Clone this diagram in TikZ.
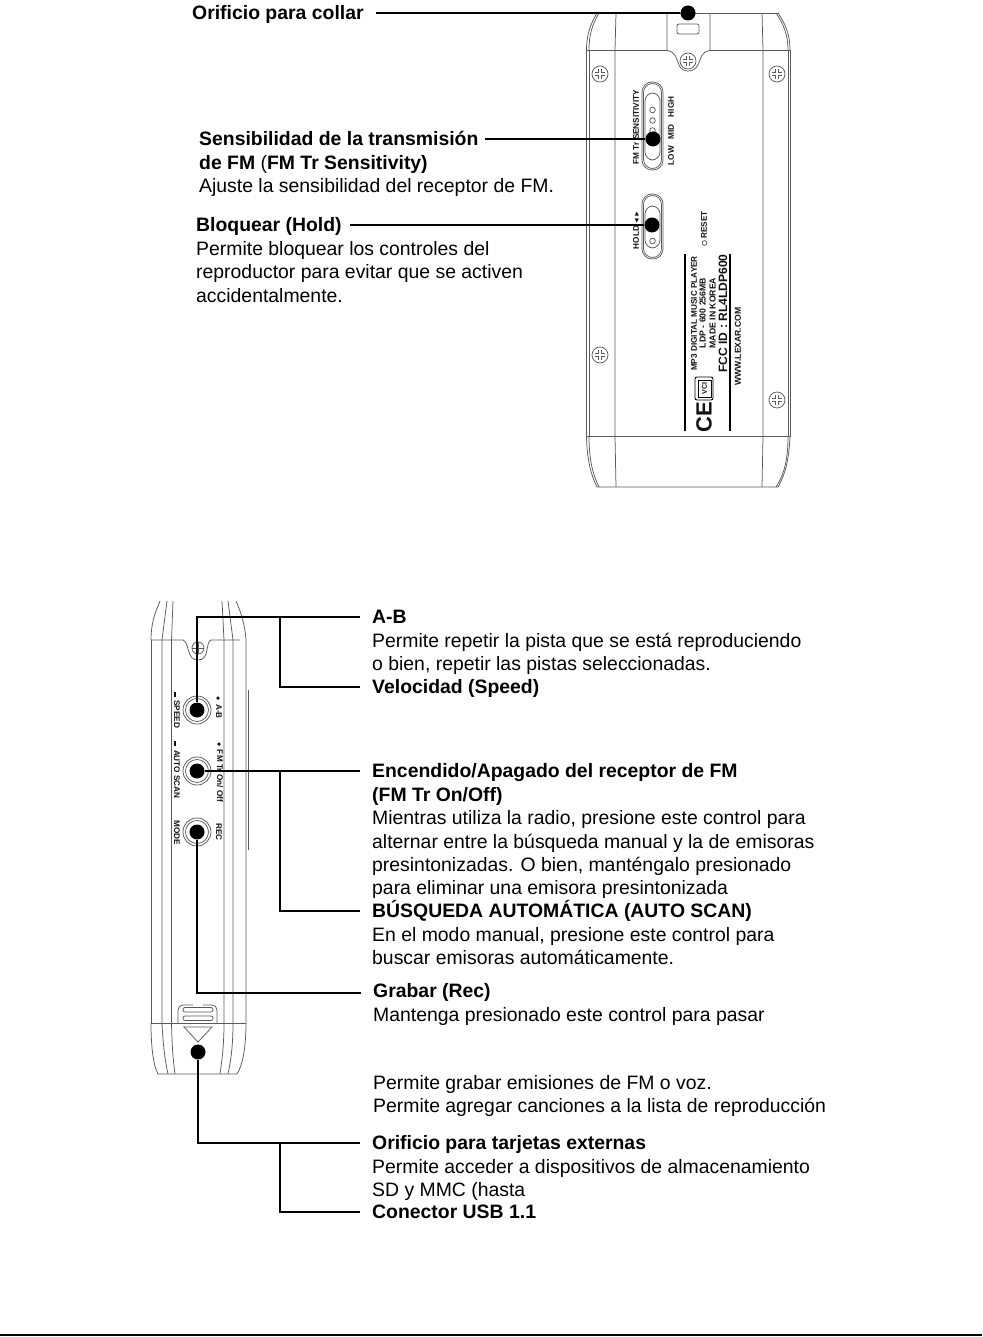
\documentclass[tikz,border=0pt]{standalone}
\usepackage{fontspec}
\setmainfont{Liberation Sans}
\usetikzlibrary{positioning}
\definecolor{CaseLine}{HTML}{5A5A5A}
\definecolor{CaseText}{HTML}{111111}
\tikzset{
  lead/.style={line width=1.9pt, draw=black},
  casing/.style={line width=0.75pt, draw=CaseLine},
  spot/.style={circle, fill=black, minimum size=15pt, inner sep=0pt},
  head/.style={anchor=west, inner sep=0pt, text height=14.5pt, text depth=1.5pt, font=\fontsize{19.4}{23.4}\selectfont\bfseries},
  body/.style={inner sep=0pt, align=left, font=\fontsize{19.4}{23.4}\selectfont},
  printbase/.style={inner sep=0pt, text=CaseText, font=\fontsize{8.2}{9}\selectfont\bfseries},
  printed/.style={printbase, rotate=90},
  sideprint/.style={printbase, rotate=-90},
  screwhead/.style={circle, draw=CaseLine, line width=0.75pt, fill=white, minimum size=16pt, inner sep=0pt},
}
\newcommand{\crosshead}[1]{
  \draw[CaseLine, line width=4pt] (#1) ++(-5,0) -- ++(10,0) (#1) ++(0,-5) -- ++(0,10);
  \draw[white, line width=2.4pt] (#1) ++(-4.6,0) -- ++(9.2,0) (#1) ++(0,-4.6) -- ++(0,9.2);
}
\begin{document}
\begin{tikzpicture}[x=1pt,y=-1pt,node distance=7.8pt and 0pt]
  \useasboundingbox (0,0) rectangle (982,1337);
  % upper view of the player
  \draw[casing] (597,13) -- (778,13);
  \draw[casing] (586.5,50.5) .. controls (586.5,35) and (590,25) .. (597,13);
  \draw[casing] (589,50.5) .. controls (589,35) and (592,25) .. (599,13);
  \draw[casing] (790,50.5) .. controls (790,35) and (786,25) .. (778,13);
  \draw[casing] (788,50.5) .. controls (788,35) and (784,25) .. (776,13);
  \draw[casing] (586.5,50.5) -- (586.5,436.5) (589,50.5) -- (589,436.5);
  \draw[casing] (790,50.5) -- (790,436.5) (788,50.5) -- (788,436.5);
  \draw[casing] (616,13) -- (615,50.5) -- (615,436.5) -- (616,487);
  \draw[casing] (762,13) -- (763,50.5) -- (763,436.5) -- (762,487);
  \draw[casing] (586.5,436.5) -- (790,436.5);
  \draw[casing] (586.5,50.5) -- (667,50.5) (710,50.5) -- (790,50.5);
  \draw[casing] (667,13) -- (667,50.5) .. controls (676,52) and (676,58) .. (679,65) .. controls (682,73) and (694,73) .. (698,65) .. controls (701,58) and (701,52) .. (710,50.5) -- (710,13);
  \draw[casing, rounded corners=2pt] (677,24) rectangle (699,34);
  \draw[casing] (586.5,436.5) .. controls (587,460) and (591,475) .. (597,487) -- (778,487) .. controls (785,475) and (789,460) .. (790,436.5);
  \draw[casing] (589,436.5) .. controls (589,460) and (593,475) .. (599,487);
  \draw[casing] (788,436.5) .. controls (788,460) and (784,475) .. (776,487);
  \foreach \sx/\sy/\sname in {600/74/a, 777/74/b, 600/355/c, 777/400/d, 688/61/e} {
    \node[screwhead] (screw\sname) at (\sx,\sy) {};
    \crosshead{\sx,\sy}
  }
  % switches
  \draw[casing, rounded corners=10pt] (642,82) rectangle (663,170);
  \draw[casing, rounded corners=9pt] (643.5,83.5) rectangle (661.5,168.5);
  \draw[casing, rounded corners=8pt] (645,93) rectangle (660,160);
  \draw[casing, rounded corners=10pt] (642,194) rectangle (663,259);
  \draw[casing, rounded corners=9pt] (643.5,195.5) rectangle (661.5,257.5);
  \draw[casing, rounded corners=8pt] (645,206) rectangle (660,248);
  \foreach \cy in {110,120.5,130.5,241} \draw[casing] (652.5,\cy) circle (2.8);
  \draw[casing] (704.5,243) circle (2.4);
  \node[printed] (sensmark) at (636,127) {FM Tr SENSITIVITY};
  \node[printed] (levelmark) at (671,131) {LOW\hspace{7pt}MID\hspace{7pt}HIGH};
  \node[printed] (holdmark) at (636,230) {HOLD\scriptsize\,◄►};
  \node[printed] (resetmark) at (704,225) {RESET};
  % plate
  \draw[black, line width=1.3pt] (685,254) -- (685,431) (730,254) -- (730,431);
  \node[printed] (plate1) at (694,313.5) {MP3 DIGITAL MUSIC PLAYER};
  \node[printed, font=\fontsize{8.7}{9}\selectfont\bfseries] (plate2) at (702.5,313) {LDP - 600 256MB};
  \node[printed, font=\fontsize{8.7}{9}\selectfont\bfseries] (plate3) at (712.5,313) {MADE IN KOREA};
  \node[printed, font=\fontsize{12.1}{13}\selectfont\bfseries] (plate4) at (723,313.5) {FCC ID : RL4LDP600};
  \node[printed, font=\fontsize{8.6}{9}\selectfont\bfseries] (plate5) at (738,346.5) {WWW.LEXAR.COM};
  \draw[black, line width=0.9pt, rounded corners=2pt] (695,377) rectangle (713,400);
  \draw[black, line width=0.9pt] (698,380) rectangle (711,397);
  \node[printed, font=\fontsize{7}{8}\selectfont\bfseries] (vcci) at (704.5,388.5) {VCI};
  \node[printed, font=\fontsize{22}{23}\selectfont\bfseries] (cemark) at (704,417.5) {CE};
  % lower view of the player
  \draw[casing] (160,601) .. controls (154,615) and (151,625) .. (151,640) -- (183,640) .. controls (190,643) and (186,660) .. (198,660) .. controls (210,660) and (205,643) .. (211,640) -- (240,640);
  \draw[casing] (236,601) .. controls (241,612) and (245,625) .. (246,640) -- (246,1023);
  \draw[casing] (151,640) -- (151,1023) -- (246,1023);
  \draw[casing] (167,601) -- (162,640) -- (162,1023);
  \draw[casing] (173,601) -- (171.5,640) -- (171.5,1023);
  \draw[casing] (222,601) -- (224,640) -- (224,1023);
  \draw[casing] (228,601) -- (233,640) -- (233,1023);
  \draw[casing] (248.5,690) -- (248.5,850);
  \draw[casing] (151,1023) .. controls (151,1045) and (153,1065) .. (158,1074) -- (237,1074) .. controls (243,1065) and (246,1045) .. (246,1023);
  \draw[casing] (162,1023) .. controls (163,1045) and (165,1060) .. (168,1074);
  \draw[casing] (171.5,1023) .. controls (172,1045) and (173,1060) .. (175,1074);
  \draw[casing] (224,1023) .. controls (224,1045) and (222,1060) .. (220,1074);
  \draw[casing] (233,1023) .. controls (233,1045) and (231,1060) .. (228,1074);
  \node[screwhead, minimum size=12pt] (screwf) at (198,648) {};
  \draw[casing] (192,648) -- (204,648) (198,642) -- (198,654);
  \foreach \jy in {710,771,832} {
    \draw[casing] (197,\jy) circle (14);
    \draw[casing] (197,\jy) circle (11.5);
  }
  \node[sideprint] (abmark) at (219,707.5) {$\bullet$ \,A-B};
  \node[sideprint] (speedmark) at (177,710) {\rule{5pt}{1.5pt}\, SPEED};
  \node[sideprint] (fmmark) at (220,772) {$\bullet$ \,FM Tr On/ Off};
  \node[sideprint] (scanmark) at (177,770) {\rule{5pt}{1.5pt}\, AUTO SCAN};
  \node[sideprint] (recmark) at (219,832) {REC};
  \node[sideprint] (modemark) at (177,833) {MODE};
  \draw[casing, rounded corners=5pt] (178,1023) -- (178,1005) -- (193,1005) (203,1005) -- (217,1005) -- (217,1023);
  \draw[casing, rounded corners=2pt] (183,1007.5) rectangle (213,1012);
  \draw[casing, rounded corners=2pt] (183,1016) rectangle (213,1020.5);
  \draw[casing] (184,1027) -- (212,1027) -- (198,1042) -- cycle;
  % spots
  \node[spot] (collarspot) at (688,13) {};
  \node[spot] (sensspot) at (653,139) {};
  \node[spot] (holdspot) at (652,225) {};
  \node[spot] (abspot) at (197,710) {};
  \node[spot] (fmspot) at (197,771) {};
  \node[spot] (recspot) at (197,832) {};
  \node[spot] (cardspot) at (198,1052) {};
  % texts
  \node[head] (collar) at (192,13) {Orificio para collar};
  \node[head] (sens) at (199,139) {Sensibilidad de la transmisión};
  \node[body,below right=of sens.south west] (senstext) {\textbf{de FM} (\textbf{FM Tr Sensitivity)}\\Ajuste la sensibilidad del receptor de FM.};
  \node[head] (hold) at (196,225) {Bloquear (Hold)};
  \node[body,below right=of hold.south west] (holdtext) {Permite bloquear los controles del\\reproductor para evitar que se activen\\accidentalmente.};
  \node[head] (ab) at (372,617) {A-B};
  \node[body,below right=of ab.south west] (abtext) {Permite repetir la pista que se está reproduciendo\\o bien, repetir las pistas seleccionadas.};
  \node[head] (speed) at (372,687) {Velocidad (Speed)};
  \node[head] (fm) at (372,771) {Encendido/Apagado del receptor de FM};
  \node[body,below right=of fm.south west] (fmtext) {\textbf{(FM Tr On/Off)}\\Mientras utiliza la radio, presione este control para\\alternar entre la búsqueda manual y la de emisoras\\presintonizadas. O bien, manténgalo presionado\\para eliminar una emisora presintonizada};
  \node[head] (scan) at (372,911) {BÚSQUEDA AUTOMÁTICA (AUTO SCAN)};
  \node[body,below right=of scan.south west] (scantext) {En el modo manual, presione este control para\\buscar emisoras automáticamente.};
  \node[head] (rec) at (373,991) {Grabar (Rec)};
  \node[body,below right=of rec.south west] (rectext) {Mantenga presionado este control para pasar};
  \node[body,anchor=west] (rectext2) at (373,1096) {Permite grabar emisiones de FM o voz.\\Permite agregar canciones a la lista de reproducción};
  \node[head] (card) at (372,1143) {Orificio para tarjetas externas};
  \node[body,below right=of card.south west] (cardtext) {Permite acceder a dispositivos de almacenamiento\\SD y MMC (hasta};
  \node[head] (usb) at (372,1212) {Conector USB 1.1};
  % connectors
  \coordinate (abfork) at (280,617);
  \coordinate (fmfork) at (280,771);
  \coordinate (cardfork) at (280,1143);
  \coordinate (recbend) at (197,993);
  \draw[lead] ([xshift=12pt]collar.east) -- (collarspot);
  \draw[lead] ([xshift=6pt]sens.east) -- (sensspot);
  \draw[lead] ([xshift=8pt]hold.east) -- (holdspot);
  \draw[lead] (abspot) |- ([xshift=-12pt]ab.west);
  \draw[lead] (abfork) |- ([xshift=-12pt]speed.west);
  \draw[lead] (fmspot) -- ([xshift=-12pt]fm.west);
  \draw[lead] (fmfork) |- ([xshift=-12pt]scan.west);
  \draw[lead] (recspot) -- (recbend) -- ([xshift=-12pt,yshift=-2pt]rec.west);
  \draw[lead] (cardspot) |- ([xshift=-12pt]card.west);
  \draw[lead] (cardfork) |- ([xshift=-12pt]usb.west);
  % footer rule
  \draw[line width=1.4pt] (0,1335) -- (982,1335);
\end{tikzpicture}
\end{document}
